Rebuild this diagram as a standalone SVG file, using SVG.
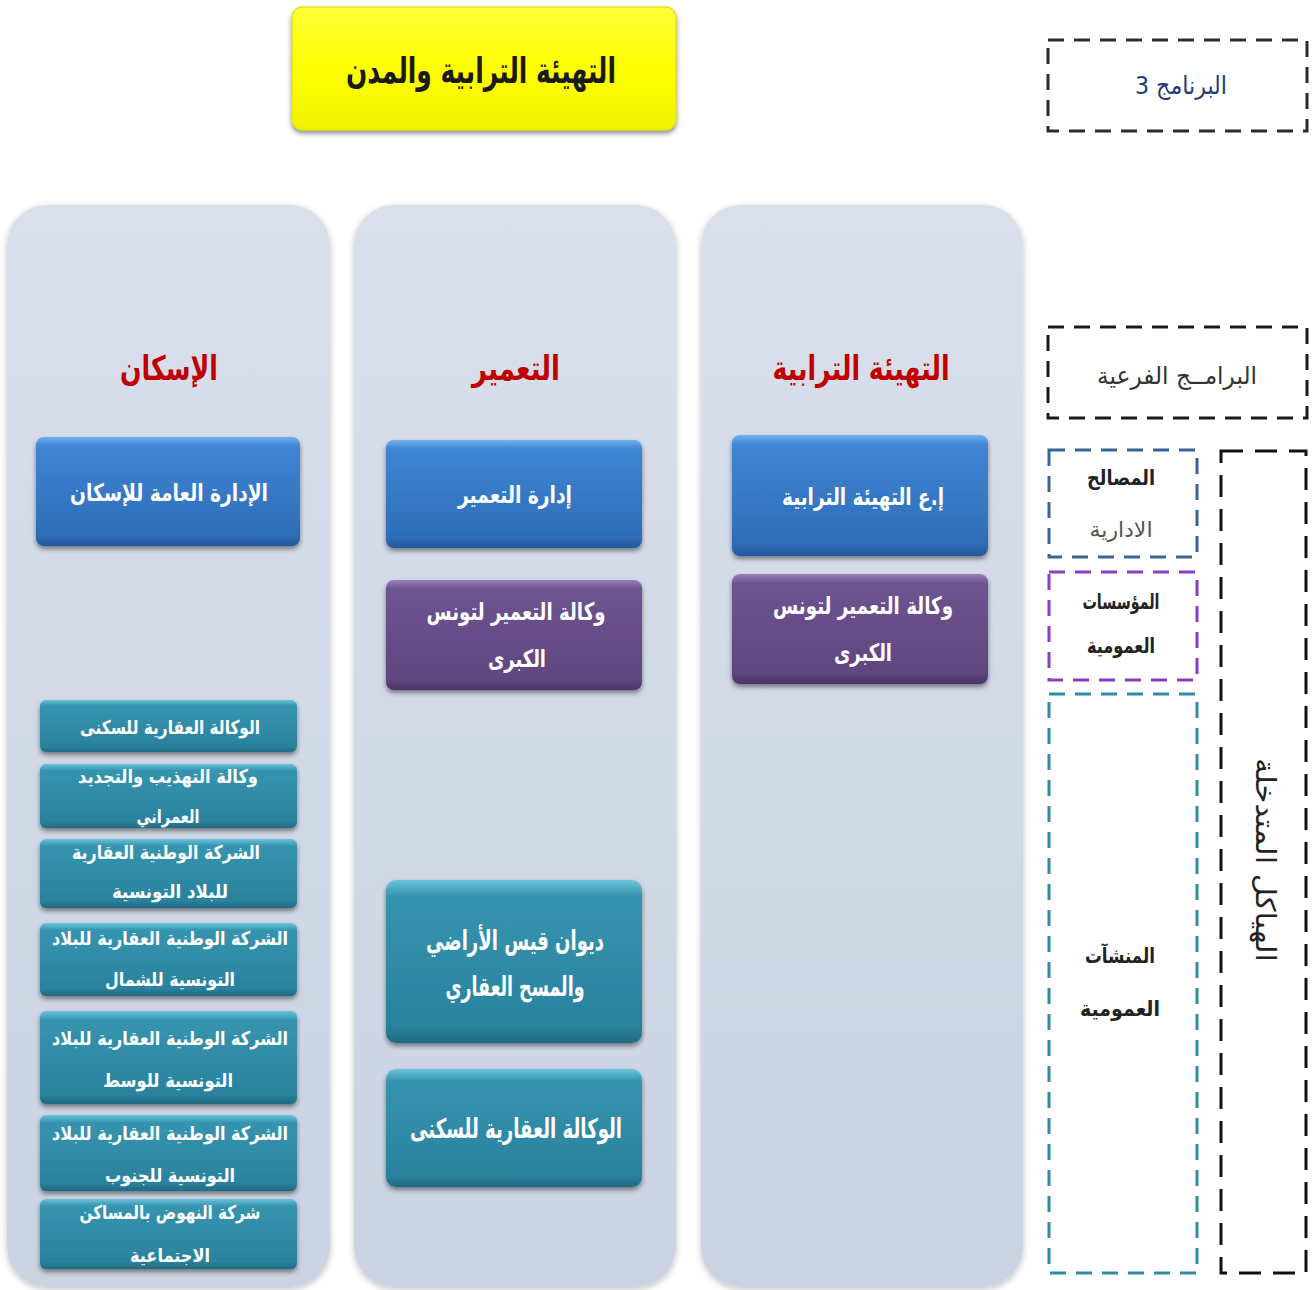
<svg xmlns="http://www.w3.org/2000/svg" width="1314" height="1290" viewBox="0 0 1314 1290">
<defs>
<linearGradient id="gCol" x1="0" y1="0" x2="0" y2="1"><stop offset="0" stop-color="#d9dfeb"/><stop offset="1" stop-color="#cbd3e3"/></linearGradient>
<linearGradient id="gYellow" x1="0" y1="0" x2="0" y2="1"><stop offset="0" stop-color="#ffff3a"/><stop offset="0.5" stop-color="#ffff00"/><stop offset="1" stop-color="#f2f200"/></linearGradient>
<linearGradient id="gBlue" x1="0" y1="0" x2="0" y2="1"><stop offset="0" stop-color="#6fb0ef"/><stop offset="0.08" stop-color="#3f86d4"/><stop offset="0.9" stop-color="#2e6db8"/><stop offset="1" stop-color="#24589a"/></linearGradient>
<linearGradient id="gPurple" x1="0" y1="0" x2="0" y2="1"><stop offset="0" stop-color="#9a80b8"/><stop offset="0.08" stop-color="#6e5491"/><stop offset="0.9" stop-color="#5f4680"/><stop offset="1" stop-color="#4a3566"/></linearGradient>
<linearGradient id="gTeal" x1="0" y1="0" x2="0" y2="1"><stop offset="0" stop-color="#6cc3dc"/><stop offset="0.1" stop-color="#3694af"/><stop offset="0.9" stop-color="#2a829d"/><stop offset="1" stop-color="#1f6a82"/></linearGradient>
<filter id="sh" x="-10%" y="-10%" width="120%" height="130%"><feDropShadow dx="0" dy="3" stdDeviation="2.5" flood-color="#000" flood-opacity="0.45"/></filter>
<filter id="shc" x="-10%" y="-5%" width="120%" height="110%"><feDropShadow dx="0" dy="2" stdDeviation="3" flood-color="#000" flood-opacity="0.25"/></filter>
<style>
text{font-family:"DejaVu Sans","Noto Sans",sans-serif;direction:rtl;text-anchor:middle;font-weight:bold}
.col{fill:url(#gCol);filter:url(#shc)}
.hdr{fill:#c00000;font-size:34px}
.wt{fill:#ffffff;font-size:24px}
.ws{fill:#ffffff;font-size:19px}
.wm{fill:#ffffff;font-size:27px}
.blue{fill:url(#gBlue);filter:url(#sh)}
.purple{fill:url(#gPurple);filter:url(#sh)}
.teal{fill:url(#gTeal);filter:url(#sh)}
.dash{fill:none;stroke-width:3;stroke-dasharray:16 10}
.lg{fill:#222;font-size:21px}
</style>
</defs>

<g id="title">
<rect x="292" y="7" width="384" height="123" rx="10" fill="url(#gYellow)" stroke="#d8d800" stroke-width="1" filter="url(#sh)"/>
<text x="481" y="83" style="font-size:36px;fill:#1a1a1a" textLength="270" lengthAdjust="spacingAndGlyphs">التهيئة الترابية والمدن</text>
</g>

<g id="program">
<rect x="1048" y="40" width="259" height="91" class="dash" stroke="#2b2b2b"/>
<text x="1181" y="94" style="fill:#1f3b7a;font-size:25px;font-weight:normal" textLength="92" lengthAdjust="spacingAndGlyphs">البرنامج 3</text>
</g>

<g id="subprograms-legend">
<rect x="1048" y="327" width="259" height="91" class="dash" stroke="#1a1a1a"/>
<text x="1177" y="384" style="fill:#333;font-size:24px;font-weight:normal" textLength="160" lengthAdjust="spacingAndGlyphs">البرامــج الفرعية</text>
</g>

<g id="col-housing">
<rect x="7" y="205" width="323" height="1082" rx="40" class="col"/>
<text x="169" y="380" class="hdr" textLength="98" lengthAdjust="spacingAndGlyphs">الإسكان</text>
</g>
<g id="col-urbanism">
<rect x="354" y="205" width="322" height="1082" rx="40" class="col"/>
<text x="516" y="380" class="hdr" textLength="88" lengthAdjust="spacingAndGlyphs">التعمير</text>
</g>
<g id="col-planning">
<rect x="701" y="205" width="322" height="1082" rx="40" class="col"/>
<text x="861" y="380" class="hdr" textLength="177" lengthAdjust="spacingAndGlyphs">التهيئة الترابية</text>
</g>

<g id="n-housing-dir">
<rect x="36" y="437" width="264" height="109" rx="8" class="blue"/>
<text x="169" y="501" class="wt" textLength="198" lengthAdjust="spacingAndGlyphs">الإدارة العامة للإسكان</text>
</g>
<g id="n-urbanism-dir">
<rect x="386" y="440" width="256" height="108" rx="8" class="blue"/>
<text x="515" y="503" class="wt" textLength="114" lengthAdjust="spacingAndGlyphs">إدارة التعمير</text>
</g>
<g id="n-planning-dir">
<rect x="732" y="435" width="256" height="121" rx="8" class="blue"/>
<text x="863" y="505" class="wt" textLength="162" lengthAdjust="spacingAndGlyphs">إ.ع التهيئة الترابية</text>
</g>

<g id="n-aut-urb-2">
<rect x="386" y="580" width="256" height="110" rx="8" class="purple"/>
<text x="516" y="620" class="wt" textLength="179" lengthAdjust="spacingAndGlyphs">وكالة التعمير لتونس</text>
<text x="517" y="667" class="wt" textLength="58" lengthAdjust="spacingAndGlyphs">الكبرى</text>
</g>
<g id="n-aut-urb-3">
<rect x="732" y="574" width="256" height="110" rx="8" class="purple"/>
<text x="863" y="614" class="wt" textLength="180" lengthAdjust="spacingAndGlyphs">وكالة التعمير لتونس</text>
<text x="863" y="661" class="wt" textLength="58" lengthAdjust="spacingAndGlyphs">الكبرى</text>
</g>

<g id="n-otc">
<rect x="386" y="880" width="256" height="163" rx="10" class="teal"/>
<text x="515" y="950" class="wm" textLength="178" lengthAdjust="spacingAndGlyphs">ديوان قيس الأراضي</text>
<text x="515" y="996" class="wm" textLength="139" lengthAdjust="spacingAndGlyphs">والمسح العقاري</text>
</g>
<g id="n-afh-2">
<rect x="386" y="1069" width="256" height="118" rx="10" class="teal"/>
<text x="516" y="1138" class="wm" textLength="212" lengthAdjust="spacingAndGlyphs">الوكالة العقارية للسكنى</text>
</g>

<g id="n-afh-1">
<rect x="40" y="700" width="257" height="52" rx="6" class="teal"/>
<text x="170" y="734" class="ws" textLength="180" lengthAdjust="spacingAndGlyphs">الوكالة العقارية للسكنى</text>
</g>
<g id="n-arru">
<rect x="40" y="764" width="257" height="64" rx="6" class="teal"/>
<text x="168" y="783" class="ws" textLength="180" lengthAdjust="spacingAndGlyphs">وكالة التهذيب والتجديد</text>
<text x="168" y="823" class="ws" textLength="63" lengthAdjust="spacingAndGlyphs">العمراني</text>
</g>
<g id="n-snit">
<rect x="40" y="839" width="257" height="69" rx="6" class="teal"/>
<text x="166" y="859" class="ws" textLength="188" lengthAdjust="spacingAndGlyphs">الشركة الوطنية العقارية</text>
<text x="170" y="898" class="ws" textLength="116" lengthAdjust="spacingAndGlyphs">للبلاد التونسية</text>
</g>
<g id="n-snit-north">
<rect x="40" y="923" width="257" height="73" rx="6" class="teal"/>
<text x="170" y="945" class="ws" textLength="236" lengthAdjust="spacingAndGlyphs">الشركة الوطنية العقارية للبلاد</text>
<text x="170" y="986" class="ws" textLength="130" lengthAdjust="spacingAndGlyphs">التونسية للشمال</text>
</g>
<g id="n-snit-center">
<rect x="40" y="1011" width="257" height="93" rx="6" class="teal"/>
<text x="170" y="1045" class="ws" textLength="236" lengthAdjust="spacingAndGlyphs">الشركة الوطنية العقارية للبلاد</text>
<text x="168" y="1087" class="ws" textLength="130" lengthAdjust="spacingAndGlyphs">التونسية للوسط</text>
</g>
<g id="n-snit-south">
<rect x="40" y="1115" width="257" height="76" rx="6" class="teal"/>
<text x="170" y="1140" class="ws" textLength="236" lengthAdjust="spacingAndGlyphs">الشركة الوطنية العقارية للبلاد</text>
<text x="170" y="1182" class="ws" textLength="130" lengthAdjust="spacingAndGlyphs">التونسية للجنوب</text>
</g>
<g id="n-sprols">
<rect x="40" y="1199" width="257" height="70" rx="6" class="teal"/>
<text x="170" y="1219" class="ws" textLength="181" lengthAdjust="spacingAndGlyphs">شركة النهوض بالمساكن</text>
<text x="170" y="1262" class="ws" textLength="80" lengthAdjust="spacingAndGlyphs">الاجتماعية</text>
</g>

<g id="legend-admin">
<rect x="1049" y="450" width="148" height="107" class="dash" stroke="#3a6496"/>
<text x="1121" y="485" class="lg" textLength="68" lengthAdjust="spacingAndGlyphs">المصالح</text>
<text x="1121" y="537" class="lg" style="fill:#555;font-weight:normal" textLength="63" lengthAdjust="spacingAndGlyphs">الادارية</text>
</g>
<g id="legend-public-inst">
<rect x="1049" y="572" width="148" height="108" class="dash" stroke="#8a3fc0"/>
<text x="1121" y="609" class="lg" textLength="77" lengthAdjust="spacingAndGlyphs">المؤسسات</text>
<text x="1121" y="653" class="lg" textLength="68" lengthAdjust="spacingAndGlyphs">العمومية</text>
</g>
<g id="legend-public-est">
<rect x="1049" y="694" width="148" height="579" class="dash" stroke="#2f8ca6"/>
<text x="1120" y="963" class="lg" textLength="70" lengthAdjust="spacingAndGlyphs">المنشآت</text>
<text x="1120" y="1016" class="lg" textLength="80" lengthAdjust="spacingAndGlyphs">العمومية</text>
</g>
<g id="legend-structures">
<rect x="1221" y="451" width="85" height="822" fill="none" stroke="#111" stroke-width="3" stroke-dasharray="22 12"/>
<text transform="translate(1256,860) rotate(90)" x="0" y="0" style="fill:#222;font-size:27px;font-weight:normal" textLength="204" lengthAdjust="spacingAndGlyphs">الهياكل المتدخلة</text>
</g>

<g id="connectors"></g>
</svg>
